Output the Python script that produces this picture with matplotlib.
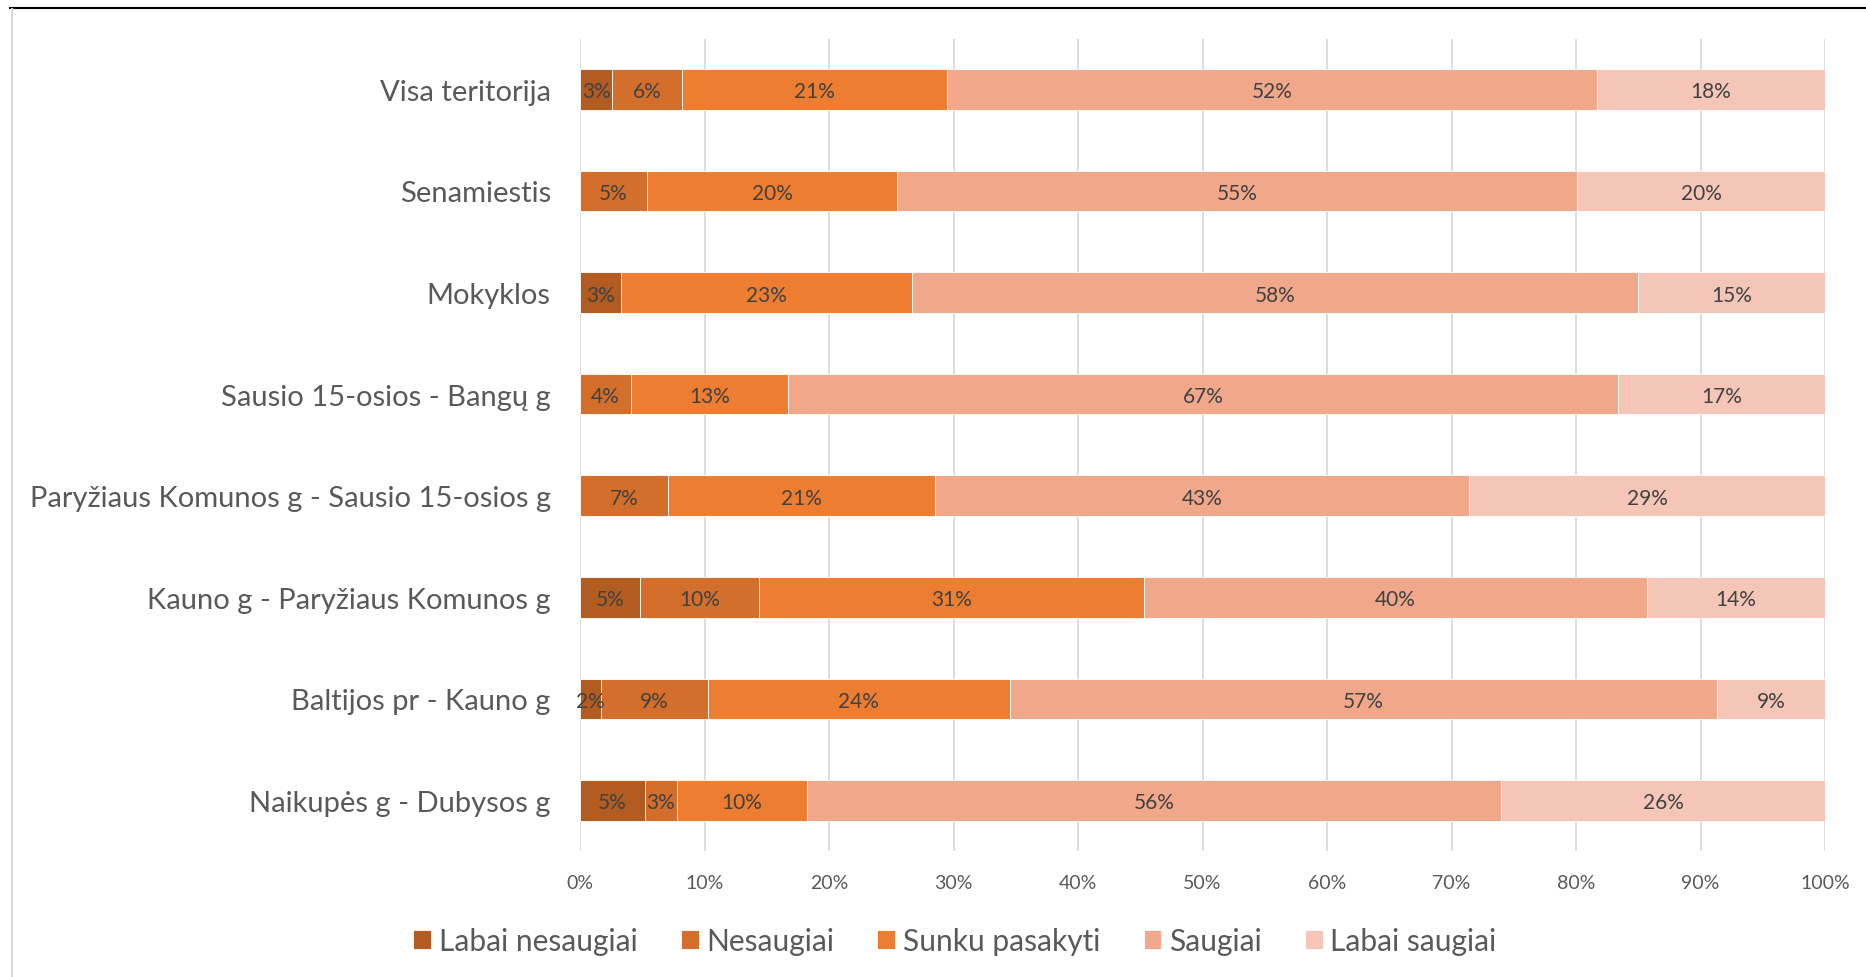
import numpy as np
import matplotlib
matplotlib.use("Agg")
import matplotlib.pyplot as plt
from matplotlib.lines import Line2D

plt.rcParams['font.family'] = ['Lato', 'DejaVu Sans']

categories = ["Visa teritorija", "Senamiestis", "Mokyklos", "Sausio 15-osios - Bangų g",
              "Paryžiaus Komunos g - Sausio 15-osios g", "Kauno g - Paryžiaus Komunos g",
              "Baltijos pr - Kauno g", "Naikupės g - Dubysos g"]
series = ["Labai nesaugiai", "Nesaugiai", "Sunku pasakyti", "Saugiai", "Labai saugiai"]

labai_nesaugiai = [2.6, 0.0, 3.3, 0.0, 0.0, 4.8, 1.7, 5.2]
nesaugiai = [5.6, 5.4, 0.0, 4.1, 7.1, 9.6, 8.6, 2.6]
sunku_pasakyti = [21.3, 20.1, 23.4, 12.6, 21.4, 30.9, 24.2, 10.4]
saugiai = [52.2, 54.6, 58.3, 66.7, 42.9, 40.4, 56.8, 55.8]
labai_saugiai = [18.3, 19.9, 15.0, 16.6, 28.6, 14.3, 8.7, 26.0]

colors = ["#b35c22", "#d36f2b", "#ed7d31", "#f1a78a", "#f5c6b7"]
ticks = [0, 10, 20, 30, 40, 50, 60, 70, 80, 90, 100]

W, H = 1866, 978
fig = plt.figure(figsize=(W / 100, H / 100), dpi=100)
ax = fig.add_axes([580 / W, 1 - 852.3 / H, 1245 / W, (852.3 - 39.5) / H])

data = [labai_nesaugiai, nesaugiai, sunku_pasakyti, saugiai, labai_saugiai]
y = np.arange(len(categories))
left = np.zeros(len(categories))
for name, vals, c in zip(series, data, colors):
    vals = np.array(vals)
    bars = ax.barh(y, vals, left=left, height=0.4, color=c, edgecolor="white",
                   linewidth=0.6, label=name, zorder=3)
    for b, v in zip(bars, vals):
        if v > 0:
            ax.text(b.get_x() + b.get_width() / 2, b.get_y() + b.get_height() / 2,
                    f"{v:.0f}%", ha="center", va="center_baseline", fontsize=15,
                    color="#404040", zorder=4)
    left += vals

ax.set_xlim(0, 100)
ax.set_ylim(len(categories) - 0.5, -0.5)
ax.set_xticks(ticks)
ax.set_xticklabels([f"{t}%" for t in ticks], fontsize=14, color="#595959")
ax.set_yticks(y)
ax.set_yticklabels(categories, fontsize=21, color="#595959")
ax.tick_params(axis="both", length=0)
ax.tick_params(axis="x", pad=16)
ax.tick_params(axis="y", pad=21)
ax.grid(axis="x", color="#d9d9d9", linewidth=1.3, zorder=0)
for s in ax.spines.values():
    s.set_visible(False)

leg = fig.legend(loc="center", bbox_to_anchor=(955 / W, 1 - 942 / H), ncol=5,
                 frameon=False, fontsize=21.5, handlelength=0.6, handleheight=0.6,
                 handletextpad=0.25, columnspacing=1.45, labelcolor="#595959")

# chart frame bits
fig.add_artist(Line2D([10 / W, 1], [1 - 9 / H, 1 - 9 / H], color="black", linewidth=1.5))
fig.add_artist(Line2D([12 / W, 12 / W], [0, 1 - 10 / H], color="#d9d9d9", linewidth=1.5))

fig.savefig("out.png", dpi=100, facecolor="white")
